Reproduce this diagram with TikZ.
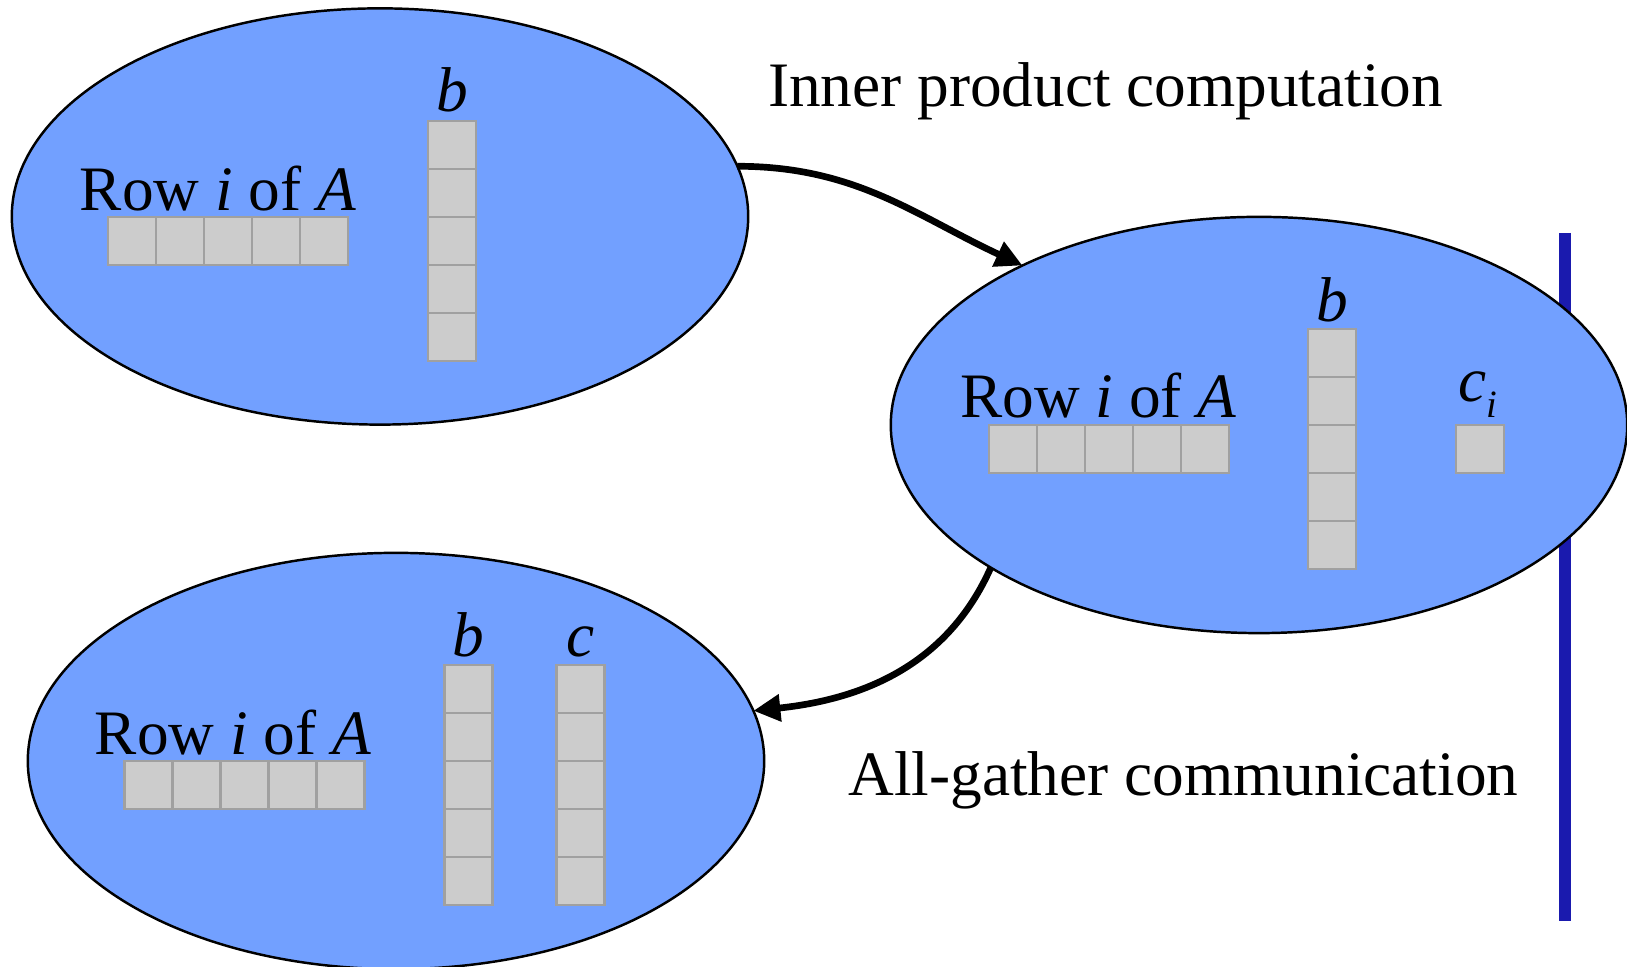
\documentclass[tikz,border=0pt]{standalone}
\usepackage{fontspec}
\setmainfont{Liberation Serif}
\usetikzlibrary{arrows.meta,positioning,shapes.geometric}
\definecolor{blob}{HTML}{72A0FF}
\definecolor{cellfill}{HTML}{CCCCCC}
\definecolor{celledge}{HTML}{A0A0A0}
\definecolor{barrier}{HTML}{1A1AAE}

\begin{document}
\begin{tikzpicture}[x=0.01cm, y=0.01cm,
  every node/.style={font=\fontsize{18pt}{21pt}\selectfont},
  proc/.style={ellipse, draw=black, line width=0.7pt, fill=blob, minimum width=7.36cm, minimum height=4.16cm, inner sep=0pt, outer sep=0pt},
  cell/.style={rectangle, draw=celledge, fill=cellfill, line width=0.6pt, minimum size=0.48cm, inner sep=0pt, outer sep=0pt},
  rowlbl/.style={inner sep=0pt},
  vec/.style={inner sep=0pt},
  heading/.style={inner sep=0pt, anchor=base},
  arrow/.style={-{Triangle[length=0.27cm,width=0.26cm]}, line width=1.9pt, draw=black}
]
\useasboundingbox (0,0) rectangle (1627,967);

% barrier line behind the middle process
\coordinate (bartop) at (1564.5,734);
\coordinate (barbot) at (1564.5,46);
\draw[barrier, line width=0.12cm] (bartop) -- (barbot);

\node[proc] (init) at (380,750.5) {};
\node[proc] (prod) at (1259,542) {};
\node[proc] (gath) at (396,206) {};

% before the inner product
\foreach \k in {0,...,4} {
  \node[cell] (rowa\k) at (132+48*\k,726) {};
  \node[cell] (ba\k) at (452,822-48*\k) {};
}
\node[rowlbl, above=0.065cm of rowa2.north, anchor=base, xshift=-0.1cm] (rowtxta) {Row \textit{i} of \textit{A}};
\node[vec, above=0.08cm of ba0] (blbla) {\textit{b}};

% after the inner product
\foreach \k in {0,...,4} {
  \node[cell] (rowb\k) at (1013+48*\k,518) {};
  \node[cell] (bb\k) at (1332,614-48*\k) {};
}
\node[cell] (ci) at (1480,518) {};
\node[rowlbl, above=0.07cm of rowb2.north, anchor=base, xshift=-0.105cm] (rowtxtb) {Row \textit{i} of \textit{A}};
\node[vec, above=0.065cm of bb0] (blblb) {\textit{b}};
\node[vec, above=0.23cm of ci.north west, anchor=base west, xshift=0.02cm] (cilbl) {\textit{c}\raisebox{-0.16cm}{\fontsize{11pt}{13pt}\selectfont\textit{i}}};

% after the all-gather
\foreach \k in {0,...,4} {
  \node[cell] (rowc\k) at (148.5+48*\k,182) {};
  \node[cell] (bc\k) at (468.5,278-48*\k) {};
  \node[cell] (cc\k) at (580.5,278-48*\k) {};
}
\node[rowlbl, above=0.06cm of rowc2.north, anchor=base, xshift=-0.115cm] (rowtxtc) {Row \textit{i} of \textit{A}};
\node[vec, above=0.07cm of bc0] (blblc) {\textit{b}};
\node[vec, above=0.07cm of cc0] (clblc) {\textit{c}};

\node[heading] (inner) at (1105.5,860) {Inner product computation};
\node[heading] (allg) at (1183.5,171) {All-gather communication};

\draw[arrow] (init.8) to[out=0,in=155] (prod.146);
\draw[arrow] (prod.208) to[out=-114,in=6] (gath.8);
\end{tikzpicture}
\end{document}
